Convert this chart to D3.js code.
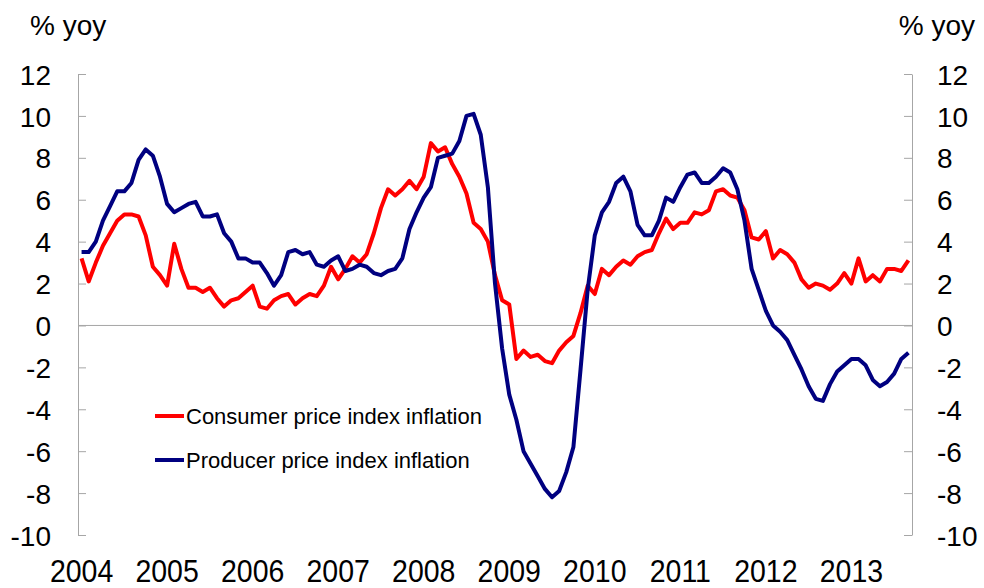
<!DOCTYPE html>
<html>
<head>
<meta charset="utf-8">
<script src="https://cdn.jsdelivr.net/npm/d3@7"></script>
<style>
  html, body { margin: 0; padding: 0; background: #fff; }
  svg { display: block; font-family: "Liberation Sans", Arial, sans-serif; }
</style>
</head>
<body>
<svg id="chart" width="984" height="588"></svg>
<script>
// Monthly, Jan 2004 - Sep 2013
const startYear = 2004;
const cpi = [
  3.2, 2.1, 3.0, 3.8, 4.4, 5.0, 5.3, 5.3, 5.2, 4.3, 2.8, 2.4,
  1.9, 3.9, 2.7, 1.8, 1.8, 1.6, 1.8, 1.3, 0.9, 1.2, 1.3, 1.6,
  1.9, 0.9, 0.8, 1.2, 1.4, 1.5, 1.0, 1.3, 1.5, 1.4, 1.9, 2.8,
  2.2, 2.7, 3.3, 3.0, 3.4, 4.4, 5.6, 6.5, 6.2, 6.5, 6.9, 6.5,
  7.1, 8.7, 8.3, 8.5, 7.7, 7.1, 6.3, 4.9, 4.6, 4.0, 2.4, 1.2,
  1.0, -1.6, -1.2, -1.5, -1.4, -1.7, -1.8, -1.2, -0.8, -0.5, 0.6, 1.9,
  1.5, 2.7, 2.4, 2.8, 3.1, 2.9, 3.3, 3.5, 3.6, 4.4, 5.1, 4.6,
  4.9, 4.9, 5.4, 5.3, 5.5, 6.4, 6.5, 6.2, 6.1, 5.5, 4.2, 4.1,
  4.5, 3.2, 3.6, 3.4, 3.0, 2.2, 1.8, 2.0, 1.9, 1.7, 2.0, 2.5,
  2.0, 3.2, 2.1, 2.4, 2.1, 2.7, 2.7, 2.6, 3.1
];
const ppi = [
  3.5, 3.5, 4.0, 5.0, 5.7, 6.4, 6.4, 6.8, 7.9, 8.4, 8.1, 7.1,
  5.8, 5.4, 5.6, 5.8, 5.9, 5.2, 5.2, 5.3, 4.4, 4.0, 3.2, 3.2,
  3.0, 3.0, 2.5, 1.9, 2.4, 3.5, 3.6, 3.4, 3.5, 2.9, 2.8, 3.1,
  3.3, 2.6, 2.7, 2.9, 2.8, 2.5, 2.4, 2.6, 2.7, 3.2, 4.6, 5.4,
  6.1, 6.6, 8.0, 8.1, 8.2, 8.8, 10.0, 10.1, 9.1, 6.6, 2.0, -1.1,
  -3.3, -4.5, -6.0, -6.6, -7.2, -7.8, -8.2, -7.9, -7.0, -5.8, -2.1, 1.7,
  4.3, 5.4, 5.9, 6.8, 7.1, 6.4, 4.8, 4.3, 4.3, 5.0, 6.1, 5.9,
  6.6, 7.2, 7.3, 6.8, 6.8, 7.1, 7.5, 7.3, 6.5, 5.0, 2.7, 1.7,
  0.7, 0.0, -0.3, -0.7, -1.4, -2.1, -2.9, -3.5, -3.6, -2.8, -2.2, -1.9,
  -1.6, -1.6, -1.9, -2.6, -2.9, -2.7, -2.3, -1.6, -1.3
];
const yearLabels = ["2004","2005","2006","2007","2008","2009","2010","2011","2012","2013"];
const yTicks = [-10, -8, -6, -4, -2, 0, 2, 4, 6, 8, 10, 12];
const seriesNames = ["Consumer price index inflation", "Producer price index inflation"];
const unitLabel = "% yoy";

const svg = d3.select("#chart");
const plotL = 78, plotR = 912, plotT = 74, plotB = 535;
const n = cpi.length;

const x = d3.scaleLinear().domain([-0.5, n - 0.5]).range([plotL, plotR]);
const y = d3.scaleLinear().domain([-10, 12]).range([plotB, plotT]);

const axisColor = "#a6a6a6";
const fmt = d => String(d);

// zero line
svg.append("line")
  .attr("x1", plotL).attr("x2", plotR)
  .attr("y1", y(0)).attr("y2", y(0))
  .attr("stroke", axisColor).attr("stroke-width", 1);

// left axis
const gl = svg.append("g").attr("transform", `translate(${plotL},0)`)
  .call(d3.axisLeft(y).tickValues(yTicks).tickFormat(fmt)
    .tickSizeInner(-8).tickSizeOuter(0).tickPadding(27));
// right axis
const gr = svg.append("g").attr("transform", `translate(${plotR},0)`)
  .call(d3.axisRight(y).tickValues(yTicks).tickFormat(fmt)
    .tickSizeInner(-8).tickSizeOuter(0).tickPadding(25));

[gl, gr].forEach(g => {
  g.select(".domain").attr("stroke", axisColor);
  g.selectAll(".tick line").attr("stroke", axisColor);
  g.selectAll(".tick text")
    .attr("fill", "#000")
    .style("font-size", "28px")
    .style("font-family", "'Liberation Sans', Arial, sans-serif")
    .attr("dy", "0.36em");
});

// year labels
svg.append("g").selectAll("text")
  .data(yearLabels)
  .join("text")
  .attr("transform", (d, i) => `translate(${x(i * 12)},582) scale(1,1.1)`)
  .attr("text-anchor", "middle")
  .style("font-size", "28.5px")
  .attr("fill", "#000")
  .text(d => d);

// unit labels
svg.append("text").attr("x", 30).attr("y", 35)
  .style("font-size", "28px").attr("fill", "#000").text(unitLabel);
svg.append("text").attr("x", 975).attr("y", 35).attr("text-anchor", "end")
  .style("font-size", "28px").attr("fill", "#000").text(unitLabel);

// lines
const line = d3.line().x((d, i) => x(i)).y(d => y(d));
const colors = ["#ff0000", "#000080"];
const data = [cpi, ppi];
[0, 1].forEach(k => {
  svg.append("path")
    .datum(data[k])
    .attr("fill", "none")
    .attr("stroke", colors[k])
    .attr("stroke-width", 4)
    .attr("stroke-linejoin", "round")
    .attr("d", line);
});

// legend
const legendY = [416, 460];
seriesNames.forEach((name, k) => {
  svg.append("line")
    .attr("x1", 155).attr("x2", 184)
    .attr("y1", legendY[k]).attr("y2", legendY[k])
    .attr("stroke", colors[k]).attr("stroke-width", 4);
  svg.append("text")
    .attr("x", 186).attr("y", legendY[k])
    .attr("dy", "0.36em")
    .style("font-size", "22px")
    .attr("fill", "#000")
    .text(name);
});
</script>
</body>
</html>
